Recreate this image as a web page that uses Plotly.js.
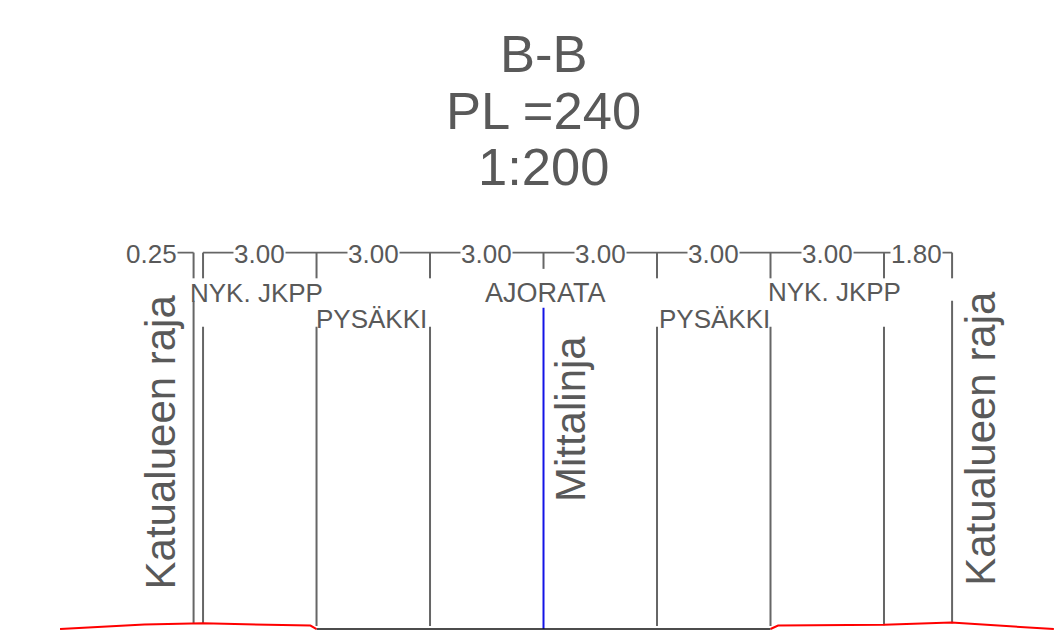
<!DOCTYPE html>
<html><head><meta charset="utf-8">
<script src="https://cdn.plot.ly/plotly-3.0.1.min.js"></script>
<style>html,body{margin:0;padding:0;background:#fff}</style></head>
<body><div id="chart" style="width:1054px;height:630px"></div>
<script>
const titleLines = ['B-B','PL =240','1:200'];
const titleLineY = [0.915,0.825,0.736];
const stations = [-9.25,-9,-6,-3,0,3,6,9,10.8];
const spanLabels = ['0.25','3.00','3.00','3.00','3.00','3.00','3.00','1.80'];
const spanLabelX = [-10.35,-7.5,-4.5,-1.5,1.5,4.5,7.5,9.85];
// heights in metres above the baseline of the section
const dimY = 9.95;
const spanLabelY = 9.91;
const tickBottom = [9.27,9.27,9.27,9.27,9.52,9.27,9.27,9.27,9.27];
const lineTop = [8.68,7.99,7.99,7.99,8.49,7.99,7.99,7.99,8.68];
const lineBottom = [0.13,0.13,0.08,0.08,0,0.08,0.08,0.1,0.15];
const groundRedLeftX = [-12.78,-10.55,-9,-6.16,-6];
const groundRedLeftY = [0,0.12,0.15,0.09,0];
const groundRedRightX = [6,6.2,9,10.78,13.49];
const groundRedRightY = [0,0.09,0.11,0.17,0];
const groundBlackX = [-6,6];
const groundBlackY = [0,0];
const areaLabels = ['NYK. JKPP','PYSÄKKI','AJORATA','PYSÄKKI','NYK. JKPP'];
const areaLabelX = [-7.6,-4.55,0.04,4.52,7.69];
const areaLabelY = [8.89,8.19,8.88,8.19,8.92];
const sideLabels = ['Katualueen raja','Mittalinja','Katualueen raja'];
const sideLabelX = [-10.13,0.7,11.56];
const sideLabelY = [4.94,5.55,5.05];

const GREY='#666666', TXT='#595959', FONT='"Liberation Sans",Arial,sans-serif';
const seg=(xs,a,b)=>{const X=[],Y=[];xs.forEach((x,i)=>{X.push(x,x,null);Y.push(a[i],b[i],null)});return {x:X,y:Y}};
const line=(o,color,w)=>({type:'scatter',mode:'lines',x:o.x,y:o.y,hoverinfo:'skip',line:{color,width:w},connectgaps:false});

const vs=stations.map((s,i)=>i);
const greyIdx=vs.filter(i=>stations[i]!==0);
const dimX=[spanLabelX[0],stations[0],null,stations[1],stations[2],stations[3],stations[4],stations[5],stations[6],stations[7],stations[8]];
const dimYs=dimX.map(v=>v===null?null:dimY);
const traces=[
 line({x:dimX,y:dimYs},GREY,1.6),
 line(seg(stations,stations.map(()=>dimY),tickBottom),GREY,2),
 line(seg(greyIdx.map(i=>stations[i]),greyIdx.map(i=>lineTop[i]),greyIdx.map(i=>lineBottom[i])),GREY,2),
 line(seg([0],[lineTop[4]],[lineBottom[4]]),'#1414e6',2),
 line({x:groundBlackX,y:groundBlackY},'#111111',1.5),
 line({x:groundRedLeftX,y:groundRedLeftY},'#ff0000',2),
 line({x:groundRedRightX,y:groundRedRightY},'#ff0000',2)
];
const ann=[];
titleLines.slice(1).forEach((t,i)=>ann.push({xref:'paper',yref:'paper',x:0.516,y:titleLineY[i+1],xanchor:'center',yanchor:'middle',text:t,showarrow:false,font:{size:52.5,color:TXT,family:FONT}}));
spanLabels.forEach((t,i)=>ann.push({x:spanLabelX[i],y:spanLabelY,text:t,showarrow:false,bgcolor:'#fff',borderpad:0,font:{size:26,color:TXT,family:FONT}}));
areaLabels.forEach((t,i)=>ann.push({x:areaLabelX[i],y:areaLabelY[i],text:t,showarrow:false,font:{size:t==='AJORATA'?27:26,color:TXT,family:FONT}}));
sideLabels.forEach((t,i)=>ann.push({x:sideLabelX[i],y:sideLabelY[i],text:t,showarrow:false,textangle:-90,font:{size:42,color:TXT,family:FONT}}));

Plotly.newPlot('chart',traces,{
 width:1054,height:630,showlegend:false,paper_bgcolor:'#fff',plot_bgcolor:'#fff',
 margin:{l:0,r:0,t:0,b:0},
 title:{text:titleLines[0],font:{size:52.5,color:TXT,family:FONT},x:0.516,xanchor:'center',y:titleLineY[0],yanchor:'middle'},
 xaxis:{range:[-14.367,13.494],visible:false,fixedrange:true},
 yaxis:{range:[-0.026,16.627],visible:false,fixedrange:true},
 annotations:ann
},{displayModeBar:false,staticPlot:true});
</script></body></html>
